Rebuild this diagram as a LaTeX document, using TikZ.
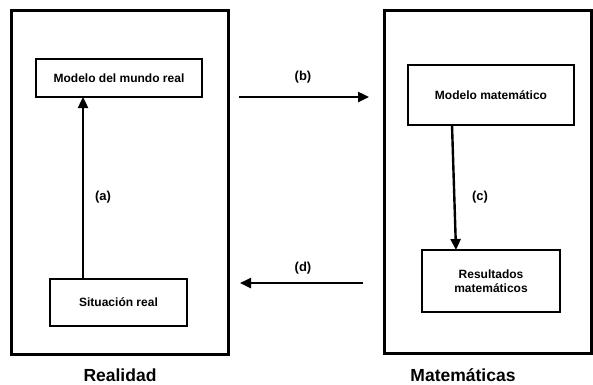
\documentclass[tikz,border=0pt]{standalone}
\usepackage{fontspec}
\setmainfont{Liberation Sans}
\usetikzlibrary{arrows.meta}
\begin{document}
\begin{tikzpicture}[x=1pt,y=-1pt,
  frame/.style={draw,line width=3pt},
  box/.style={draw,line width=2.8pt,inner sep=0pt,align=center,
    font=\fontsize{12}{14.5}\selectfont\bfseries},
  lbl/.style={font=\fontsize{13}{15}\selectfont\bfseries},
  title/.style={anchor=base,inner sep=0pt,font=\fontsize{17.5}{20}\selectfont\bfseries},
  flow/.style={line width=2.4pt,-{Triangle[length=11pt,width=10pt]}}]
\useasboundingbox (0,0) rectangle (593,384);
% outer frames
\draw[frame] (11,10) rectangle (228,354);
\draw[frame] (384,10) rectangle (591,353);
\node[title] (real) at (120,381) {Realidad};
\node[title] (mat) at (463,381) {Matemáticas};
% left side
\node[box,minimum width=166pt,minimum height=38pt] (mmr) at (119,78) {Modelo del mundo real};
\node[box,minimum width=137pt,minimum height=47pt] (sr) at (118.5,302.5) {Situación real};
\coordinate (a0) at (83,279);
\coordinate (a1) at (83,97);
\draw[flow] (a0) -- (a1);
\node[lbl] (la) at (103,197) {(a)};
% right side
\node[box,minimum width=166pt,minimum height=60pt] (mm) at (491,95) {Modelo matemático};
\node[box,minimum width=138pt,minimum height=62pt] (rm) at (491,281) {Resultados\\matemáticos};
\coordinate (c0) at (452,125);
\coordinate (c1) at (456,250);
\draw[flow] (c0) -- (c1);
\node[lbl] (lc) at (480,197) {(c)};
% horizontal transitions
\coordinate (b0) at (239,97);
\coordinate (b1) at (369,97);
\draw[flow] (b0) -- (b1);
\node[lbl] (lb) at (303,77) {(b)};
\coordinate (d0) at (363,283);
\coordinate (d1) at (240,283);
\draw[flow] (d0) -- (d1);
\node[lbl] (ld) at (303,268) {(d)};
\end{tikzpicture}
\end{document}
